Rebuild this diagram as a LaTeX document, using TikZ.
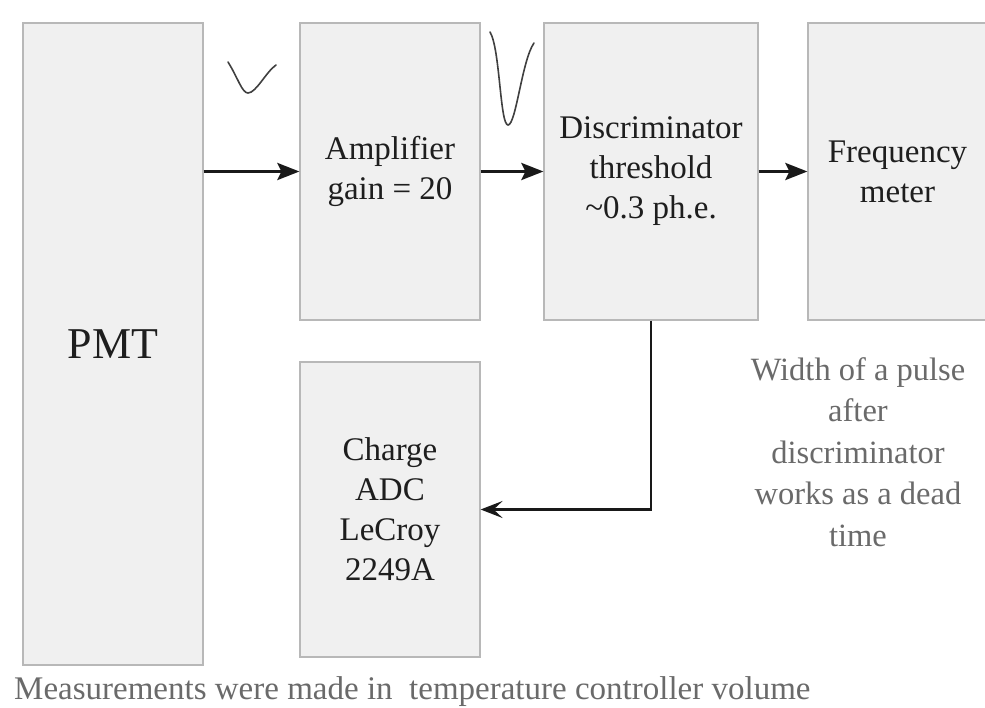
\documentclass[tikz,border=0pt]{standalone}
\usepackage{fontspec}
\setmainfont{Liberation Serif}
\usetikzlibrary{arrows.meta}
\definecolor{boxfill}{HTML}{F0F0F0}
\definecolor{boxline}{HTML}{B8B8B8}
\definecolor{txtdark}{HTML}{1E1E1E}
\definecolor{txtgray}{HTML}{6A6A6A}
\begin{document}
\begin{tikzpicture}[x=1pt,y=-1pt,
  blk/.style={draw=boxline,fill=boxfill,line width=1.2pt,inner sep=0pt,
    align=center,text=txtdark,font=\fontsize{33}{40}\selectfont},
  arr/.style={line width=3pt,draw=black!90,-{Stealth[length=22pt,width=17pt,inset=4pt]}},
  pulse/.style={line width=1.6pt,draw=black!75,line cap=round}]
\useasboundingbox (0,0) rectangle (985,708);
\fill[white] (0,0) rectangle (985,708);
% boxes
\node[blk,minimum width=180pt,minimum height=642pt,font=\fontsize{44}{50}\selectfont] (pmt) at (113,344) {PMT};
\node[blk,minimum width=180pt,minimum height=297pt] (amp) at (390,171.5) {Amplifier\\gain = 20};
\node[blk,minimum width=214pt,minimum height=297pt] (disc) at (651,171.5) {Discriminator\\threshold\\\textasciitilde0.3 ph.e.};
\node[blk,minimum width=179pt,minimum height=297pt] (freq) at (897.5,171.5) {Frequency\\meter};
\node[blk,minimum width=180pt,minimum height=295pt] (adc) at (390,509.5) {Charge\\ADC\\LeCroy\\2249A};
% connectors
\draw[arr] (pmt.east |- amp.west) -- (amp.west);
\draw[arr] (amp.east) -- (disc.west);
\draw[arr] (disc.east) -- (freq.west);
\draw[arr,line width=2.6pt,-{Stealth[length=22pt,width=17pt,inset=9pt]}] (disc.south) |- (adc.east);
% pulses
\draw[pulse] (228,62) .. controls (238,78) and (242,93) .. (248,93) .. controls (256,93) and (266,72) .. (276,65);
\draw[pulse] (490,32) .. controls (500,48) and (500,125) .. (508,125) .. controls (516,125) and (522,60) .. (534,43);
% notes
\node[text=txtgray,align=center,font=\fontsize{32.5}{41.5}\selectfont] (note) at (858,452) {Width of a pulse\\after\\discriminator\\works as a dead\\time};
\node[anchor=base west,inner sep=0pt,text=txtgray,font=\fontsize{33}{40}\selectfont] (foot) at (14,699) {Measurements were made in\ \ temperature controller volume};
\end{tikzpicture}
\end{document}
